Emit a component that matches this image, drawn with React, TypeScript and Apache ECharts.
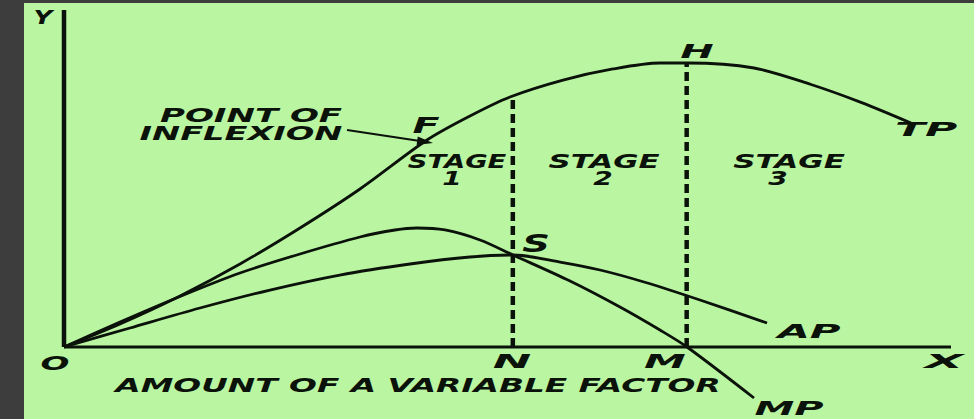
import React, { useEffect, useRef } from "react";
import * as echarts from "echarts";

// Total product curve (input units, output units)
const TP: number[][] = [
  [0, 0], [6.31, 6.82], [13.08, 15.13], [19.84, 24.63], [26.61, 35.31],
  [33.37, 46.88], [40.92, 61.42], [45.77, 68.55], [50.28, 74.18],
  [56.26, 79.2], [61.89, 82.5], [67.19, 84.27], [70.35, 84.27],
  [77.79, 82.79], [84.22, 77.9], [89.85, 72.6], [95.49, 66.47],
];
// Marginal product curve
const MP: number[][] = [
  [0, 0], [6.31, 7.42], [13.08, 15.0], [19.84, 21.96], [26.61, 27.6],
  [33.37, 32.64], [37.32, 34.72], [39.8, 35.31], [42.95, 34.72],
  [46.9, 31.75], [50.62, 27.3], [57.05, 19.58], [62.68, 11.87],
  [67.19, 5.04], [70.24, 0], [77.79, -15.13],
];
// Average product curve
const AP: number[][] = [
  [0, 0], [7.44, 5.64], [15.33, 11.57], [23.22, 16.91], [31.09, 21.36],
  [39.01, 24.63], [45.77, 26.71], [50.62, 27.3], [55.92, 25.22],
  [60.43, 22.85], [65.39, 19.29], [71.7, 13.95], [79.26, 7.12],
];
// Stage boundaries (N and M) and the TP height reached there
const stageX = [50.6, 70.2];
const stageTop = [74.5, 84.3];
const xMax = 100;
const yMax = 100;
const yMin = -20;

const stageLabels = ["STAGE", "STAGE", "STAGE"];
const stageNums = ["1", "2", "3"];
const curveLabels = ["TP", "AP", "MP"];

export default function App() {
  const ref = useRef<HTMLDivElement>(null);
  useEffect(() => {
    document.body.style.margin = "0";
    const chart = echarts.init(ref.current as HTMLDivElement, null, { renderer: "svg" });
    const ink = "#0b120a";
    const lbl = (text: string, cx: number, cy: number, sx: number, size = 20) => ({
      type: "text",
      x: cx,
      y: cy,
      scaleX: sx,
      z: 100,
      style: {
        text,
        fill: ink,
        fontSize: size,
        fontWeight: "bold",
        fontStyle: "italic",
        fontFamily: "DejaVu Sans",
        align: "center",
        verticalAlign: "middle",
      },
    });
    const curve = (name: string, data: number[][], width = 2.8) => ({
      name,
      type: "line",
      data,
      smooth: 0.3,
      showSymbol: false,
      symbol: "none",
      lineStyle: { color: ink, width },
      z: 5,
    });
    const dashed = stageX.map((x, i) => ({
      type: "line",
      data: [[x, 0], [x, stageTop[i]]],
      showSymbol: false,
      symbol: "none",
      lineStyle: { color: ink, width: 4.5, type: [9, 5] },
      z: 4,
    }));

    chart.setOption({
      animation: false,
      backgroundColor: "#3d3d3d",
      grid: { left: 64, top: 10, width: 887, height: 404.4 },
      xAxis: { type: "value", min: 0, max: xMax, show: false },
      yAxis: { type: "value", min: yMin, max: yMax, show: false },
      series: [
        {
          type: "line",
          data: [[0, 0], [xMax, 0]],
          showSymbol: false,
          symbol: "none",
          lineStyle: { color: ink, width: 3 },
          z: 3,
        },
        {
          type: "line",
          data: [[0, 0], [0, yMax]],
          showSymbol: false,
          symbol: "none",
          lineStyle: { color: ink, width: 4.5 },
          z: 3,
        },
        ...dashed,
        curve(curveLabels[0], TP),
        curve(curveLabels[2], MP),
        curve(curveLabels[1], AP),
      ],
      graphic: [
        {
          type: "rect",
          z: -10,
          shape: { x: 24, y: 3, width: 950, height: 416 },
          style: { fill: "#baf5a2" },
        },
        lbl("Y", 43, 17, 1.3),
        lbl("O", 55, 363, 1.7),
        lbl("N", 512, 361, 2.3),
        lbl("M", 665, 361, 2.1),
        lbl("X", 944, 361, 2.5),
        lbl(curveLabels[1], 809, 331, 2.1),
        lbl(curveLabels[2], 789, 408, 2.0),
        lbl(curveLabels[0], 926, 129, 2.2),
        lbl("H", 697, 51, 2.0),
        lbl("S", 536, 244, 1.6, 24),
        lbl("F", 426, 125, 1.8, 22),
        lbl("POINT OF", 251, 115, 1.7),
        lbl("INFLEXION", 241, 133, 1.68),
        lbl(stageLabels[0], 457, 161, 1.37),
        lbl(stageNums[0], 452, 178, 1.4),
        lbl(stageLabels[1], 604, 161, 1.54),
        lbl(stageNums[1], 603, 178, 1.4),
        lbl(stageLabels[2], 789, 161, 1.55),
        lbl(stageNums[2], 778, 178, 1.4),
        lbl("AMOUNT OF A VARIABLE FACTOR", 418, 385, 1.64),
        {
          type: "line",
          z: 100,
          shape: { x1: 347, y1: 130, x2: 420, y2: 141 },
          style: { stroke: ink, lineWidth: 2.2 },
        },
        {
          type: "polygon",
          z: 100,
          shape: { points: [[433, 143], [416.6, 145], [417.8, 136.4]] },
          style: { fill: ink },
        },
      ],
    });
    return () => chart.dispose();
  }, []);
  return (
    <div
      ref={ref}
      style={{ position: "absolute", left: 0, top: 0, width: 974, height: 419 }}
    />
  );
}
